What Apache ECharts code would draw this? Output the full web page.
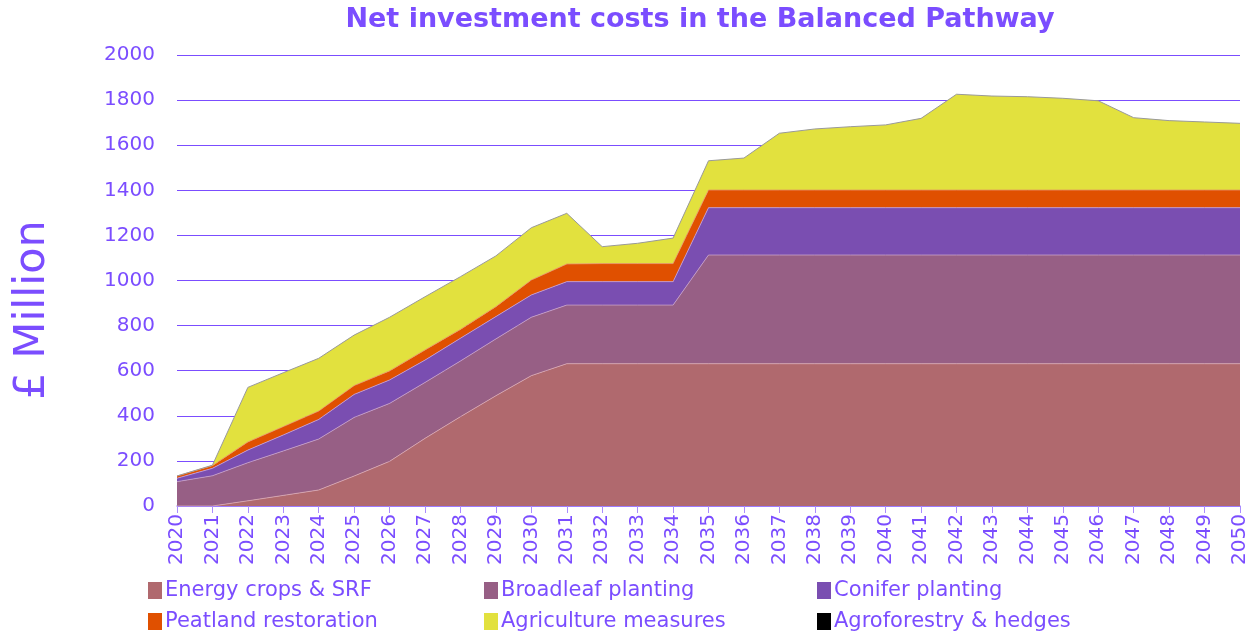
<!DOCTYPE html>
<html><head><meta charset="utf-8">
<script src="https://cdn.jsdelivr.net/npm/echarts@6/dist/echarts.min.js"></script>
<style>html,body{margin:0;padding:0;background:#fff}#c{width:1259px;height:638px}</style>
</head><body><div id="c"></div>
<script>
const years = ['2020','2021','2022','2023','2024','2025','2026','2027','2028','2029','2030','2031','2032','2033','2034','2035','2036','2037','2038','2039','2040','2041','2042','2043','2044','2045','2046','2047','2048','2049','2050'];
const energyCrops = [0,0,23,47,71,133,198,300,396,489,578,631,631,631,631,631,631,631,631,631,631,631,631,631,631,631,631,631,631,631,631];
const broadleaf = [108,134,169,197,226,260,257,248,247,252,259,260,260,260,260,482,482,482,482,482,482,482,482,482,482,482,482,482,482,482,482];
const conifer = [15,33,56,71,87,102,104,99,101,99,99,104,104,104,104,210,210,210,210,210,210,210,210,210,210,210,210,210,210,210,210];
const peatland = [10,12,36,37,37,39,40,45,39,44,66,78,80,80,80,78,78,78,78,78,78,78,78,78,78,78,78,78,78,78,78];
const agriculture = [0,2,242,239,234,224,238,236,234,225,232,225,75,90,113,130,142,252,271,281,289,318,425,417,414,407,396,321,308,302,296];
const agroforestry = [0,0,0,0,0,0,0,0,0,0,0,0,0,0,0,0,0,0,0,0,0,0,0,0,0,0,0,0,0,0,0];
const yTicks = [0,200,400,600,800,1000,1200,1400,1600,1800,2000];

const purple = '#7B4DFF';
const font = '"DejaVu Sans", sans-serif';
const names = ['Energy crops & SRF','Broadleaf planting','Conifer planting','Peatland restoration','Agriculture measures','Agroforestry & hedges'];
const colors = ['#B0696E','#975F85','#7A4EB1','#E05000','#E2E13E','#000000'];
const data = [energyCrops, broadleaf, conifer, peatland, agriculture, agroforestry];
const lineCols = ['rgba(220,170,180,0.8)','rgba(200,160,200,0.8)','rgba(190,160,230,0.8)','rgba(230,140,100,0.8)','#999999','#000000'];

const series = names.map((n,i)=>({
  name:n, type:'line', stack:'total', data:data[i], symbol:'none',
  lineStyle:{width: i===5?0:1, color: lineCols[i]},
  areaStyle:{color:colors[i], opacity:1},
  itemStyle:{color:colors[i]}
}));

const legPos = [[148,580],[484,580],[817,580],[148,611],[484,611],[817,611]];
const legends = names.map((n,i)=>({
  data:[n], left:legPos[i][0], top:legPos[i][1], itemWidth:14, itemHeight:17, itemGap:4,
  icon:'rect', selectedMode:false, padding:0,
  textStyle:{color:purple, fontSize:21, fontFamily:font, padding:[0,0,0,-2]}
}));

const chart = echarts.init(document.getElementById('c'));
chart.setOption({
  animation:false,
  legend: legends,
  graphic:[
    {type:'text', x:700, y:20,
     style:{text:'Net investment costs in the Balanced Pathway', fill:purple, fontSize:27, fontWeight:'bold', fontFamily:font, textAlign:'center', textVerticalAlign:'middle'}},
    {type:'text', rotation:Math.PI/2, x:33, y:310,
     style:{text:'£ Million', fill:purple, fontSize:43, fontFamily:font, textAlign:'center', textVerticalAlign:'middle'}}
  ],
  grid:{left:177, right:19, top:55, bottom:132, containLabel:false},
  xAxis:{type:'category', data:years, boundaryGap:false,
    axisLine:{lineStyle:{color:'#A98CFF', width:1.5}},
    axisTick:{show:true, length:7, lineStyle:{color:'#A98CFF'}},
    axisLabel:{rotate:90, color:purple, fontSize:20, fontFamily:font, margin:8, interval:0}},
  yAxis:{type:'value', min:0, max:2000, interval:200,
    axisLine:{show:false}, axisTick:{show:false},
    axisLabel:{color:purple, fontSize:20, fontFamily:font, margin:22,
      formatter:v=> yTicks.includes(v)? String(v):''},
    splitLine:{lineStyle:{color:purple, width:1.2}}},
  series: series
});
</script></body></html>
